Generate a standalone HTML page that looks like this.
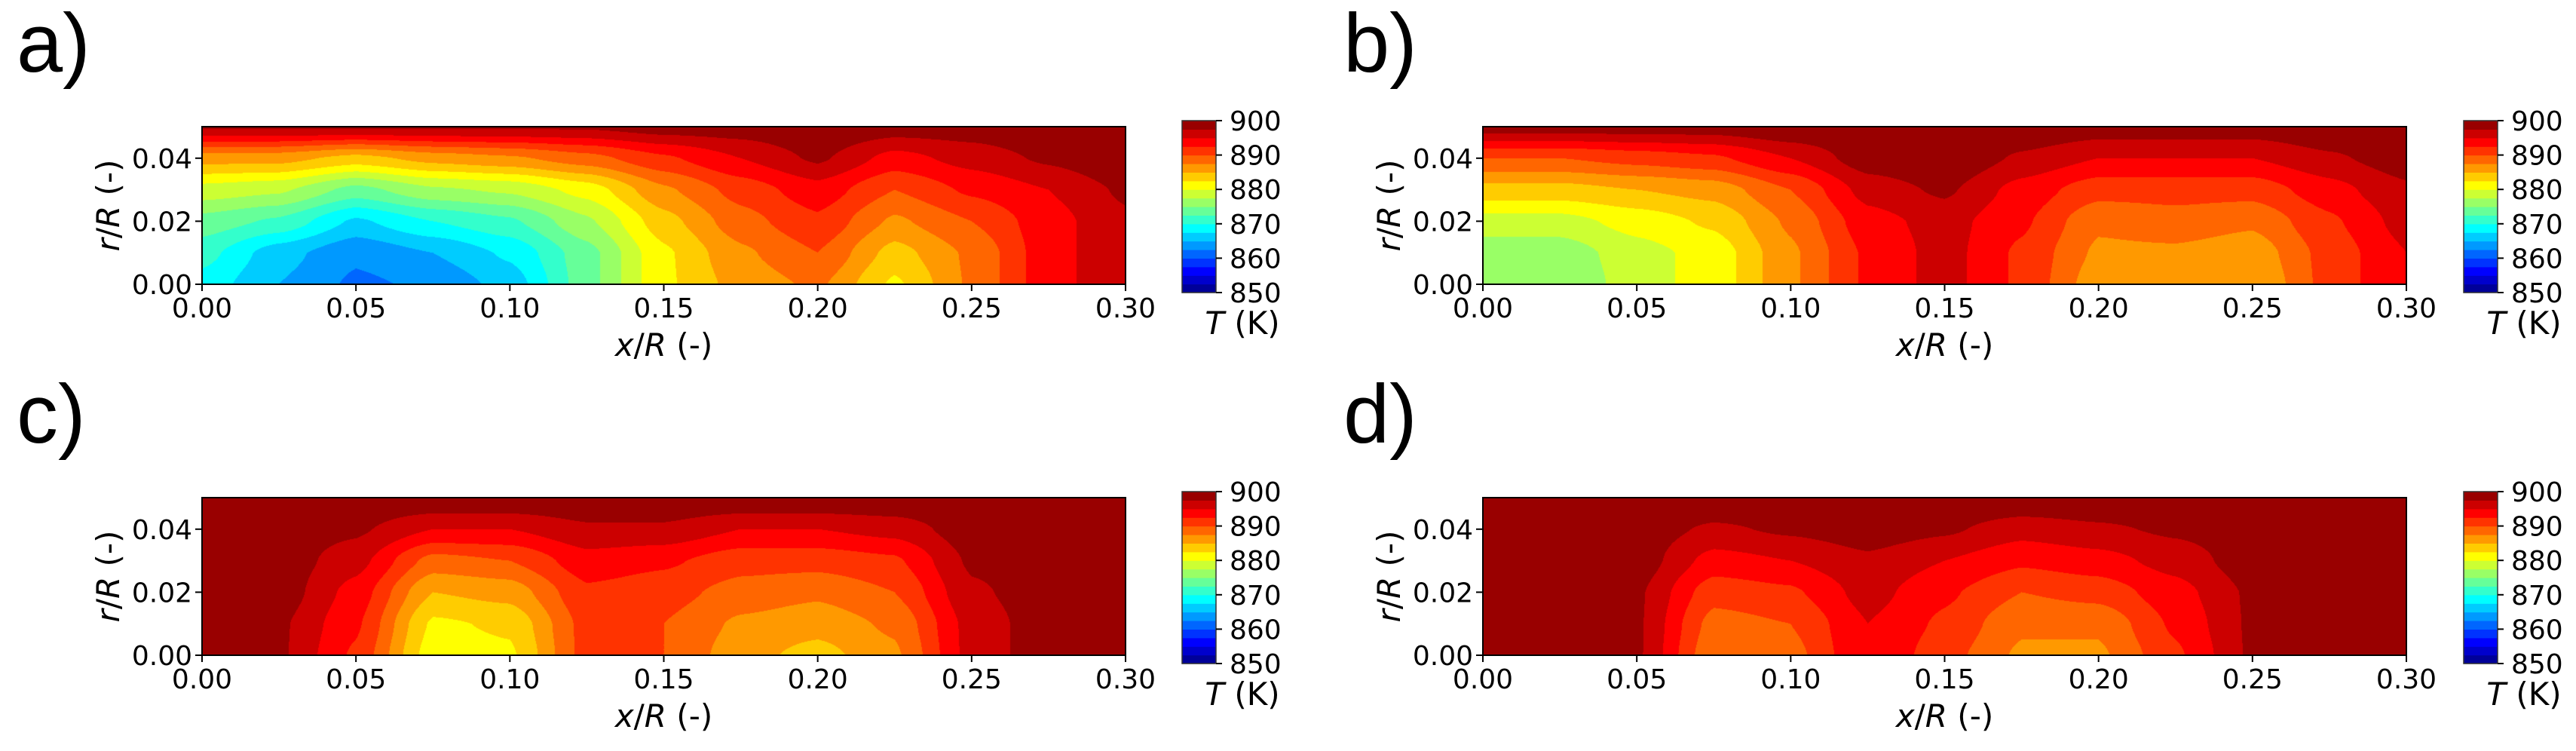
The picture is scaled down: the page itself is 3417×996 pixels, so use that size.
<!DOCTYPE html>
<html><head><meta charset="utf-8"><style>
html,body{margin:0;padding:0;background:#fff;width:3417px;height:996px;overflow:hidden}
#wrap{position:relative;width:3417px;height:996px}
canvas{position:absolute}
svg{position:absolute;left:0;top:0}
text{font-family:"DejaVu Sans","Liberation Sans",sans-serif;fill:#000}
</style></head><body>
<div id="wrap">
<svg id="svg" width="3417" height="996"></svg>
</div>
<script>
// grid coordinates (data)
const xs=[0,0.025,0.05,0.075,0.1,0.125,0.15,0.175,0.2,0.225,0.25,0.275,0.3];
const rs=[0,0.01,0.02,0.03,0.04,0.05];
const xTicks=["0.00","0.05","0.10","0.15","0.20","0.25","0.30"];
const yTicks=["0.00","0.02","0.04"];
const cbTicks=["850","860","870","880","890","900"];
// temperature fields: rows = x columns, entries = r values
const fieldA=[[869,871,874,879,886,898],[865,866,872,878,886,898],[862,863,867,874,884,898],[863,865,870,877,886,898],[866,868,872,878,887,898],[874,874,877,881,889,898],[882,882,884,887,892,899],[886,887,889,891,895,899],[888,890,892,894,898,900],[882,884,887,890,894,899],[888,888,890,893,896,899],[894,894,894,895,898,900],[897,897,897,898,900,900]];
const fieldB=[[875,876,879,884,890,899],[875,876,879,884,890,899],[879,879,881,885,891,899],[881,881,883,886,892,899],[887,887,888,890,895,900],[893,893,894,896,899,900],[896,896,896,898,900,900],[892,892,893,894,897,900],[886,887,888,891,895,899],[886,887,889,891,895,899],[885,886,888,891,895,899],[891,891,892,894,897,900],[895,895,896,897,899,900]];
const fieldC=[[899,899,899,899,899,900],[898,898,899,899,899,900],[892,893,894,896,898,900],[881,882,885,889,895,900],[882,883,886,890,895,900],[891,891,892,894,897,900],[890,890,891,893,897,900],[886,887,889,891,895,900],[884,886,888,891,895,900],[887,888,890,892,896,900],[896,896,897,898,899,900],[899,899,899,899,900,900],[900,900,900,900,900,900]];
const fieldD=[[900,900,900,900,900,900],[900,900,900,900,900,900],[898,898,898,899,899,900],[888,889,891,894,897,900],[889,890,892,895,898,900],[895,895,896,897,899,900],[891,892,893,895,898,900],[887,888,890,893,896,900],[887,888,891,894,897,900],[892,893,894,896,898,900],[898,898,898,899,899,900],[900,900,900,900,900,900],[900,900,900,900,900,900]];

const panels=[
 {id:'a',f:fieldA,px:268,py:168,lx:22,ly:95,cbx:1568,cby:160},
 {id:'b',f:fieldB,px:1967,py:168,lx:1782,ly:95,cbx:3268,cby:160},
 {id:'c',f:fieldC,px:268,py:660,lx:22,ly:587,cbx:1568,cby:652},
 {id:'d',f:fieldD,px:1967,py:660,lx:1782,ly:587,cbx:3268,cby:652}];
const PW=1225,PH=209,CBW=45,CBH=228,TMIN=850,TMAX=900,NLEV=20;
function jet(v){const c=t=>Math.max(0,Math.min(1,1.5-Math.abs(4*v-t)));return [c(3),c(2),c(1)].map(q=>Math.round(q*255));}
function levColor(i){return jet((i+0.5)/NLEV);}
function interp(f,x,r){
 let i=Math.min(xs.length-2,Math.max(0,Math.floor(x/0.025)));let j=Math.min(rs.length-2,Math.max(0,Math.floor(r/0.01)));
 const tx=(x-xs[i])/(xs[i+1]-xs[i]),ty=(r-rs[j])/(rs[j+1]-rs[j]);
 const sx=tx*tx*(3-2*tx)*0.5+tx*0.5, sy=ty*ty*(3-2*ty)*0.5+ty*0.5;
 return f[i][j]*(1-sx)*(1-sy)+f[i+1][j]*sx*(1-sy)+f[i][j+1]*(1-sx)*sy+f[i+1][j+1]*sx*sy;}
const NS='http://www.w3.org/2000/svg';const svg=document.getElementById('svg');const wrap=document.getElementById('wrap');
function el(tag,attrs,txt){const e=document.createElementNS(NS,tag);for(const k in attrs)e.setAttribute(k,attrs[k]);if(txt!==undefined)e.textContent=txt;svg.appendChild(e);return e;}
panels.forEach(p=>{
 const cv=document.createElement('canvas');cv.width=PW;cv.height=PH;cv.style.left=p.px+'px';cv.style.top=p.py+'px';
 
 
 wrap.insertBefore(cv,svg);
 const ctx=cv.getContext('2d');const img=ctx.createImageData(PW,PH);
 for(let yy=0;yy<PH;yy++){const r=0.05*(1-(yy+0.5)/PH);for(let xx=0;xx<PW;xx++){const x=0.3*(xx+0.5)/PW;
  const T=interp(p.f,x,r);let li=Math.floor((T-TMIN)/(TMAX-TMIN)*NLEV);li=Math.max(0,Math.min(NLEV-1,li));
  const c=levColor(li);const k=(yy*PW+xx)*4;img.data[k]=c[0];img.data[k+1]=c[1];img.data[k+2]=c[2];img.data[k+3]=255;}}
 ctx.putImageData(img,0,0);
 const sx=v=>p.px+v/0.3*PW, sy=v=>p.py+PH-v/0.05*PH;
 el('rect',{x:p.px,y:p.py,width:PW,height:PH,fill:'none',stroke:'#000','stroke-width':2,});
 xTicks.forEach(t=>{const X=sx(parseFloat(t));el('line',{x1:X,x2:X,y1:p.py+PH,y2:p.py+PH+9,stroke:'#000','stroke-width':2,});
  el('text',{x:X,y:p.py+PH+44,'font-size':36,'text-anchor':'middle',},t);});
 yTicks.forEach(t=>{const Y=sy(parseFloat(t));el('line',{x1:p.px-9,x2:p.px,y1:Y,y2:Y,stroke:'#000','stroke-width':2,});
  el('text',{x:p.px-13,y:Y+13,'font-size':36,'text-anchor':'end',},t);});
 const xl=el('text',{x:p.px+PW/2,y:p.py+PH+95,'font-size':42,'text-anchor':'middle',});
 xl.innerHTML='<tspan font-style="italic">x</tspan>/<tspan font-style="italic">R</tspan> (-)';
 const yl=el('text',{x:0,y:0,'font-size':42,'text-anchor':'middle',transform:`translate(${p.px-110},${p.py+PH/2}) rotate(-90)`,});
 yl.innerHTML='<tspan font-style="italic">r</tspan>/<tspan font-style="italic">R</tspan> (-)';
 el('text',{x:p.lx,y:p.ly,'font-size':110,style:'font-family:"Liberation Sans",sans-serif',},p.id+')');
 for(let i=0;i<NLEV;i++){const c=levColor(i);const h=CBH/NLEV;
  el('rect',{x:p.cbx,y:p.cby+CBH-(i+1)*h,width:CBW,height:h+0.6,fill:`rgb(${c[0]},${c[1]},${c[2]})`,});}
 el('rect',{x:p.cbx,y:p.cby,width:CBW,height:CBH,fill:'none',stroke:'#333','stroke-width':1.5,});
 cbTicks.forEach(t=>{const Y=p.cby+CBH-(parseFloat(t)-TMIN)/(TMAX-TMIN)*CBH;
  el('line',{x1:p.cbx+CBW,x2:p.cbx+CBW+8,y1:Y,y2:Y,stroke:'#000','stroke-width':2,});
  el('text',{x:p.cbx+CBW+18,y:Y+13,'font-size':36,},t);});
 const cl=el('text',{x:p.cbx+80,y:p.cby+CBH+55,'font-size':42,'text-anchor':'middle',});
 cl.innerHTML='<tspan font-style="italic">T</tspan> (K)';
});
</script>
</body></html>
